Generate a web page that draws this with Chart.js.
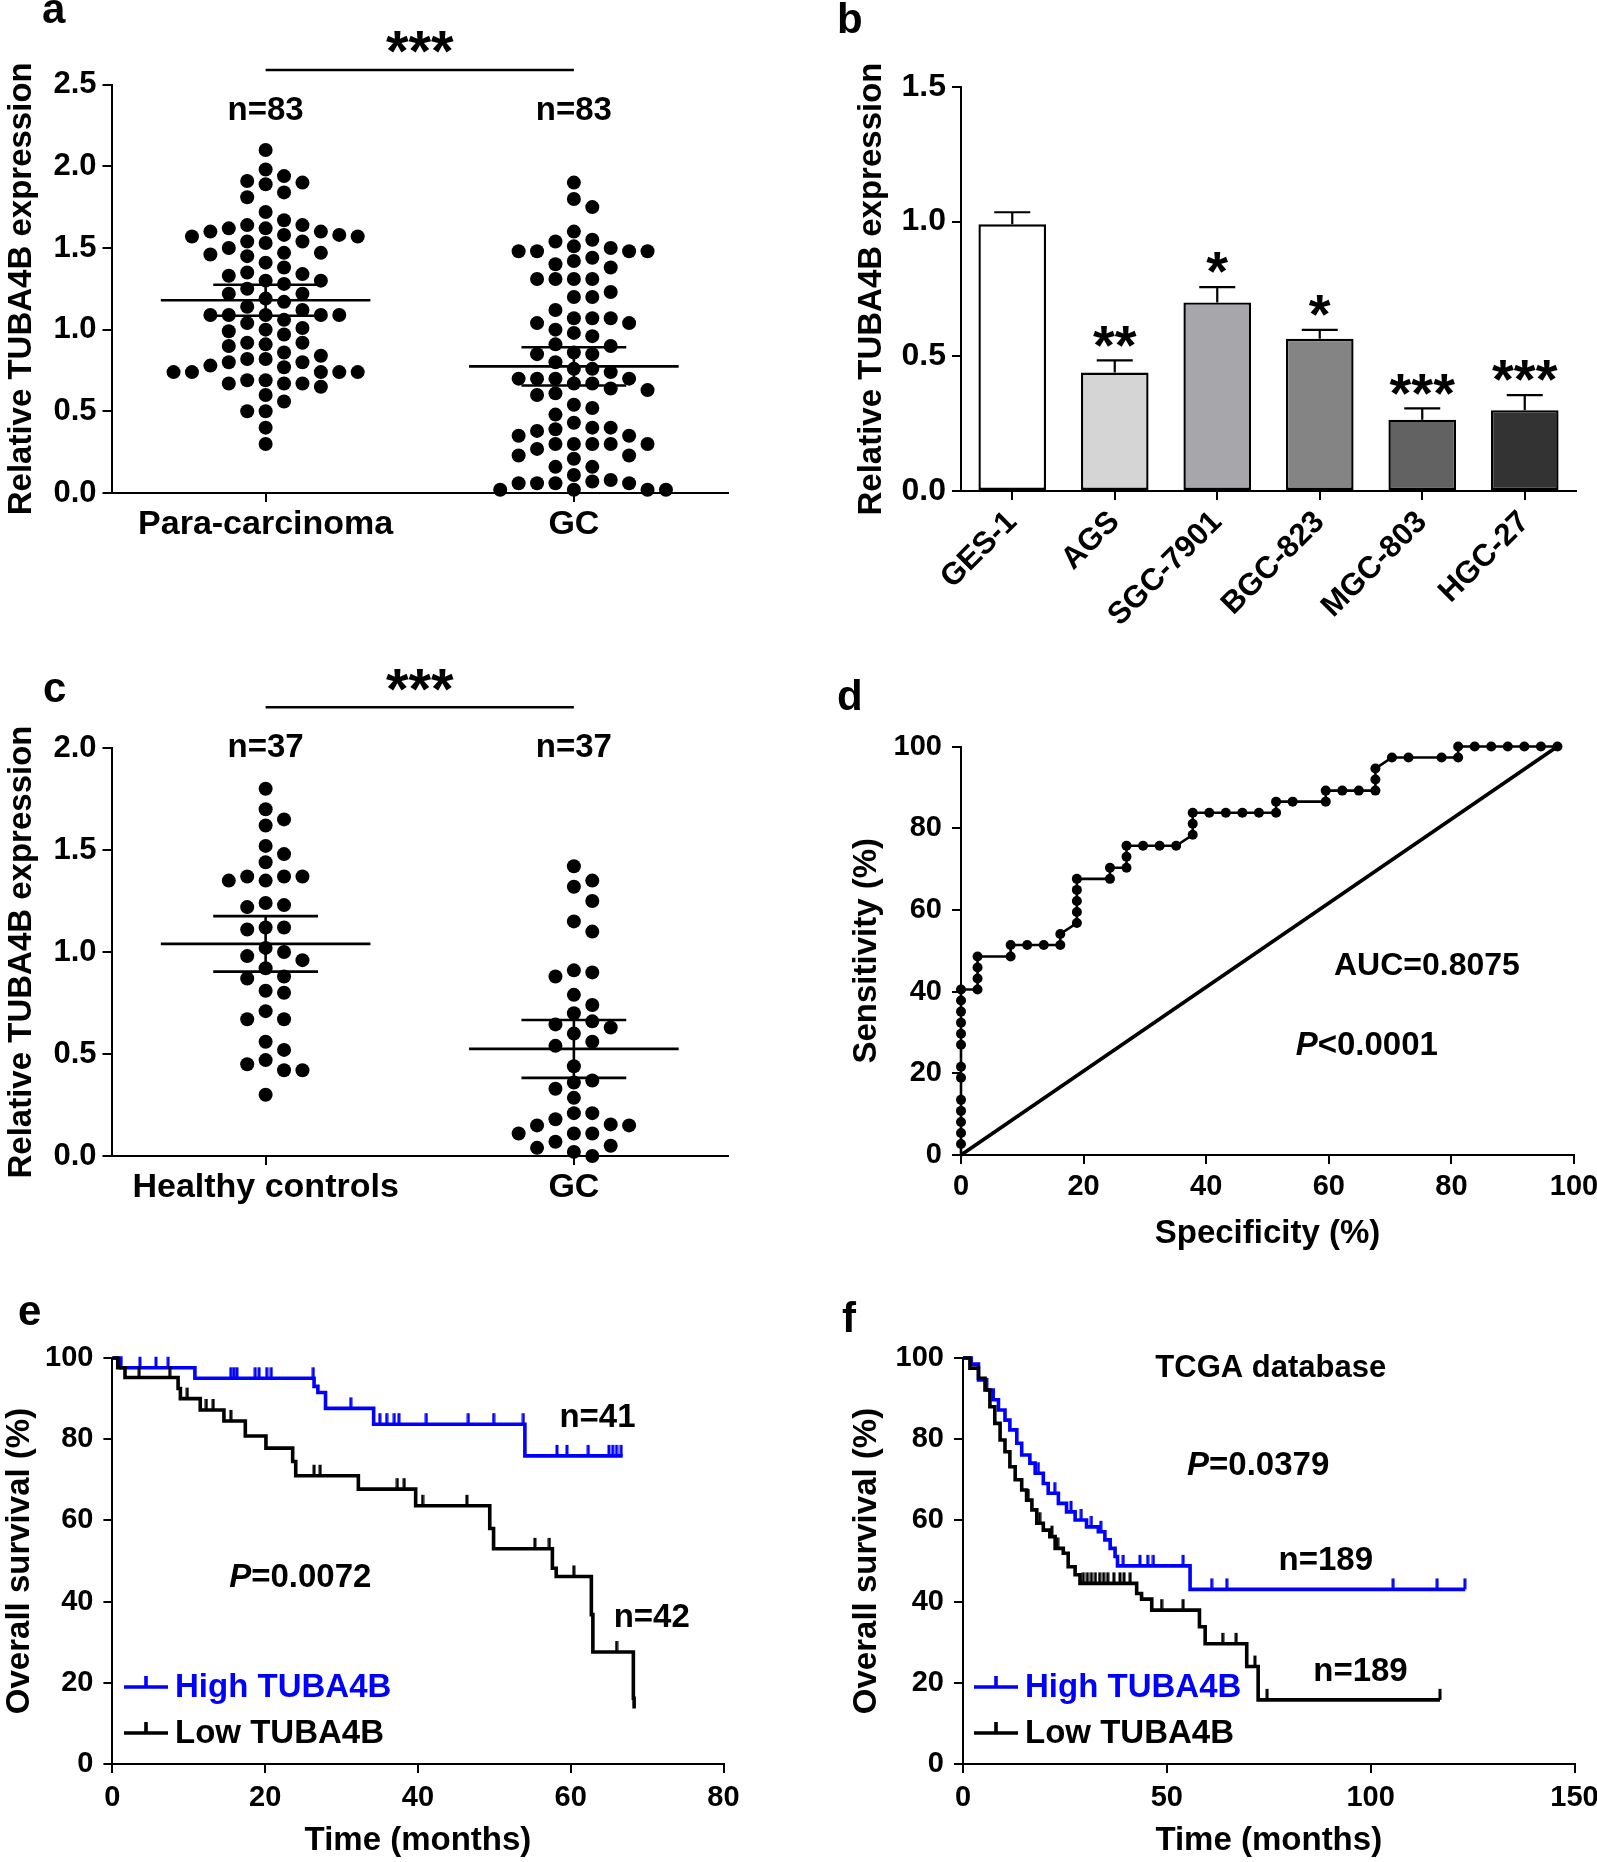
<!DOCTYPE html>
<html>
<head>
<meta charset="utf-8">
<script src="https://cdn.jsdelivr.net/npm/chart.js@4.4.1/dist/chart.umd.min.js"></script>
<style>
  html, body { margin: 0; padding: 0; background: #fff; }
  body { width: 1597px; height: 1862px; position: relative; overflow: hidden; }
  canvas { position: absolute; }
</style>
</head>
<body>
<canvas id="pa"></canvas>
<canvas id="pb"></canvas>
<canvas id="pc"></canvas>
<canvas id="pd"></canvas>
<canvas id="pe"></canvas>
<canvas id="pf"></canvas>
<script>
const FONT = "'Liberation Sans', Arial, Helvetica, sans-serif";

// ---- panel a: tissue, scatter dot plot
const aGroups = ['Para-carcinoma', 'GC'];
const aN = ['n=83', 'n=83'];
const aYTicks = [0, 0.5, 1.0, 1.5, 2.0, 2.5];
const aPara = [2.10, 1.98, 1.94, 1.90, 1.91, 1.89, 1.84, 1.81, 1.72, 1.67,
  1.64, 1.64, 1.62, 1.62, 1.60, 1.60, 1.58, 1.58, 1.57, 1.57,
  1.54, 1.53, 1.54, 1.50, 1.47, 1.47, 1.46, 1.45, 1.41, 1.38,
  1.35, 1.34, 1.33, 1.30, 1.30, 1.28, 1.25, 1.22, 1.22, 1.19,
  1.17, 1.14, 1.12, 1.09, 1.09, 1.09, 1.09, 1.09, 1.06, 1.04,
  1.01, 1.00, 0.99, 0.97, 0.92, 0.92, 0.91, 0.90, 0.86, 0.84,
  0.82, 0.82, 0.80, 0.80, 0.78, 0.77, 0.74, 0.74, 0.74, 0.74,
  0.74, 0.69, 0.69, 0.67, 0.67, 0.67, 0.65, 0.60, 0.56, 0.50,
  0.50, 0.40, 0.30];
const aGC = [1.90, 1.80, 1.75, 1.60, 1.54, 1.55, 1.50, 1.51, 1.48, 1.48,
  1.48, 1.48, 1.44, 1.42, 1.40, 1.38, 1.31, 1.31, 1.31, 1.31,
  1.23, 1.20, 1.20, 1.12, 1.07, 1.07, 1.07, 1.04, 1.04, 1.00,
  0.98, 0.96, 0.91, 0.90, 0.86, 0.85, 0.85, 0.80, 0.76, 0.76,
  0.74, 0.70, 0.70, 0.70, 0.70, 0.67, 0.67, 0.64, 0.63, 0.61,
  0.60, 0.54, 0.52, 0.48, 0.43, 0.40, 0.40, 0.39, 0.38, 0.35,
  0.35, 0.30, 0.30, 0.30, 0.30, 0.30, 0.27, 0.23, 0.23, 0.21,
  0.16, 0.16, 0.11, 0.08, 0.06, 0.06, 0.06, 0.06, 0.07, 0.02,
  0.02, 0.02, 0.02];
const aMean = [1.18, 0.775];
const aSem = [0.095, 0.117];

// ---- panel b: cell lines
const bLines = ['GES-1', 'AGS', 'SGC-7901', 'BGC-823', 'MGC-803', 'HGC-27'];
const bMeans = [0.99, 0.44, 0.70, 0.565, 0.265, 0.30];
const bErr = [0.045, 0.045, 0.057, 0.033, 0.042, 0.056];
const bStars = ['', '**', '*', '*', '***', '***'];
const bYTicks = [0, 0.5, 1.0, 1.5];
const bColors = ['#ffffff', '#d5d5d5', '#a7a7ab', '#848484', '#626262', '#333333'];

// ---- panel c: serum
const cGroups = ['Healthy controls', 'GC'];
const cN = ['n=37', 'n=37'];
const cYTicks = [0, 0.5, 1.0, 1.5, 2.0];
const cHealthy = [1.80, 1.70, 1.65, 1.62, 1.52, 1.48, 1.44, 1.37, 1.37, 1.37,
  1.35, 1.35, 1.24, 1.22, 1.23, 1.12, 1.12, 1.11, 1.02, 1.00,
  0.98, 0.96, 0.92, 0.88, 0.87, 0.81, 0.80, 0.71, 0.67, 0.67,
  0.56, 0.52, 0.47, 0.45, 0.42, 0.42, 0.30];
const cGC = [1.42, 1.35, 1.32, 1.25, 1.15, 1.10, 0.91, 0.90, 0.88, 0.79,
  0.74, 0.70, 0.66, 0.645, 0.63, 0.60, 0.56, 0.54, 0.44, 0.37,
  0.36, 0.33, 0.285, 0.21, 0.21, 0.18, 0.155, 0.15, 0.15, 0.11,
  0.11, 0.11, 0.07, 0.05, 0.04, 0.02, 0.00];
const cMean = [1.04, 0.525];
const cSem = [0.136, 0.142];

// ---- panel d: ROC
const dTicks = [0, 20, 40, 60, 80, 100];
const rocX = [0, 0, 0, 0, 0, 0, 0, 0, 0, 0, 0, 0, 0, 0,
  2.7, 2.7, 2.7, 2.7, 8.1, 8.1, 10.8, 13.5, 16.2, 16.2,
  18.9, 18.9, 18.9, 18.9, 18.9, 24.3, 24.3, 27.0, 27.0, 27.0,
  29.7, 32.4, 35.1, 37.8, 37.8, 37.8, 40.5, 43.2, 45.9, 48.6,
  51.4, 51.4, 54.1, 59.5, 59.5, 62.2, 64.9, 67.6, 67.6, 67.6,
  70.3, 73.0, 78.4, 81.1, 81.1, 83.8, 86.5, 89.2, 91.9, 94.6, 97.3];
const rocY = [0, 2.7, 5.4, 8.1, 10.8, 13.5, 18.9, 21.6, 27.0, 29.7, 32.4, 35.1, 37.8, 40.5,
  40.5, 43.2, 45.9, 48.6, 48.6, 51.4, 51.4, 51.4, 51.4, 54.1,
  56.8, 59.5, 62.2, 64.9, 67.6, 67.6, 70.3, 70.3, 73.0, 75.7,
  75.7, 75.7, 75.7, 78.4, 81.1, 83.8, 83.8, 83.8, 83.8, 83.8,
  83.8, 86.5, 86.5, 86.5, 89.2, 89.2, 89.2, 89.2, 91.9, 94.6,
  97.3, 97.3, 97.3, 97.3, 100, 100, 100, 100, 100, 100, 100];
const diagX = [0, 97.3];
const diagY = [0, 100];

// ---- panel e: KM, own cohort
const eXTicks = [0, 20, 40, 60, 80];
const survTicks = [0, 20, 40, 60, 80, 100];
const eHighT = [0, 1.1, 10.8, 26.4, 26.9, 27.9, 34.2, 54.0, 66.8];
const eHighS = [100, 97.6, 95.0, 93.0, 91.5, 87.6, 83.7, 75.9, 75.9];
const eHighCensor = [3.6, 5.7, 7.3, 15.5, 15.9, 16.3, 18.7, 19.2, 20.2, 20.8, 26.3, 31.2,
  35.0, 35.9, 36.9, 37.5, 41.1, 46.6, 49.9, 53.8, 58.2, 59.5, 62.3, 65.0, 65.5, 66.0, 66.6];
const eLowT = [0, 0.7, 1.65, 8.6, 8.9, 11.5, 14.6, 17.4, 20.1, 23.6, 24.0, 32.2, 39.7,
  49.4, 49.9, 57.6, 58.1, 62.7, 62.9, 68.2, 68.3];
const eLowS = [100, 97.6, 95.2, 92.5, 90.0, 87.2, 84.5, 80.8, 77.8, 74.5, 71.0, 67.7, 63.6,
  58.0, 53.0, 48.2, 46.2, 36.8, 27.6, 16.2, 13.7];
const eLowCensor = [3.5, 7.5, 9.8, 12.3, 13.2, 15.5, 26.4, 27.2, 37.3, 38.2, 40.6, 46.4,
  55.3, 57.2, 60.4, 66.0];

// ---- panel f: KM, TCGA
const fXTicks = [0, 50, 100, 150];
const fHighT = [0, 2.0, 3.8, 5.8, 7.4, 8.7, 10.3, 11.5, 13.2, 14.4, 16.4, 17.7, 19.7, 20.9,
  23.4, 25.4, 27.5, 30.3, 33.2, 34.8, 36.1, 37.3, 37.9, 55.7, 123.2];
const fHighS = [100, 98.5, 94.6, 92.1, 89.7, 87.2, 84.7, 82.3, 79.0, 76.1, 74.1, 71.6, 69.1, 66.7,
  64.2, 62.1, 60.1, 58.4, 57.2, 55.2, 53.1, 51.1, 48.8, 43.0, 43.0];
const fHighCensor = [18.5, 22.5, 26.5, 29.0, 31.5, 33.8, 39.3, 43.4, 45.3, 46.7, 54.0,
  61.0, 64.7, 105.5, 116.3, 123.1];
const fLowT = [0, 1.7, 3.8, 5.4, 6.6, 7.8, 9.1, 10.3, 11.5, 12.8, 14.4, 15.6, 16.9, 18.1,
  19.7, 21.3, 22.6, 24.6, 25.8, 27.5, 28.7, 42.6, 43.8, 46.3, 58.0, 59.4, 69.6, 72.4, 117];
const fLowS = [100, 97.5, 95.0, 92.1, 88.0, 83.9, 79.8, 76.9, 73.2, 70.0, 67.5, 65.0, 62.6, 59.3,
  57.6, 56.0, 53.1, 51.9, 48.6, 46.6, 44.5, 42.0, 40.6, 37.9, 33.8, 29.6, 24.0, 15.8, 15.8];
const fLowCensor = [16.0, 18.8, 21.8, 23.2, 29.5, 30.5, 31.5, 32.5, 33.5, 34.5, 35.5, 37.0,
  38.5, 39.5, 41.0, 48.7, 54.0, 63.7, 67.0, 71.6, 74.6, 117];

// ---------- helpers
function place(id, L, T, W, H) {
  const c = document.getElementById(id);
  c.width = W; c.height = H;
  c.style.left = L + 'px'; c.style.top = T + 'px';
  c.style.width = W + 'px'; c.style.height = H + 'px';
  return c;
}
function frame(box, area) {
  return {
    padding: { left: 0, top: area.t - box.T, right: box.L + box.W - area.r, bottom: 0 },
    yW: area.l - box.L,
    xH: box.T + box.H - area.b
  };
}
const gridOpts = { drawOnChartArea: false, drawTicks: true, tickLength: 9, lineWidth: 2, color: '#000' };
const borderOpts = { display: true, color: '#000', width: 2 };

function yScale(fr, o) {
  return {
    type: 'linear', min: o.ticks[0], max: o.ticks[o.ticks.length - 1],
    afterBuildTicks: s => { s.ticks = o.ticks.map(v => ({ value: v })); },
    ticks: { color: '#000', padding: o.pad, font: { family: FONT, size: o.size || 29, weight: 'bold' },
      callback: v => o.dec ? Number(v).toFixed(o.dec) : String(v) },
    grid: gridOpts, border: borderOpts,
    title: { display: true, text: o.title, color: '#000',
      font: { family: FONT, size: 33, weight: 'bold' }, padding: { top: o.titlePad, bottom: 0 } },
    afterFit: s => { s.width = fr.yW; s.paddingTop = 0; s.paddingBottom = 0; }
  };
}
function xScaleNum(fr, o) {
  return {
    type: 'linear', min: o.ticks[0], max: o.ticks[o.ticks.length - 1],
    afterBuildTicks: s => { s.ticks = o.ticks.map(v => ({ value: v })); },
    ticks: { color: '#000', padding: o.pad, maxRotation: 0, autoSkip: false,
      font: { family: FONT, size: 29, weight: 'bold' }, callback: v => String(v) },
    grid: gridOpts, border: borderOpts,
    title: { display: true, text: o.title, color: '#000',
      font: { family: FONT, size: 33, weight: 'bold' }, padding: { top: 0, bottom: o.titlePad } },
    afterFit: s => { s.height = fr.xH; s.paddingLeft = 0; s.paddingRight = 0; }
  };
}
function xScaleGroups(fr, groups) {
  return {
    type: 'linear', min: 0.5, max: groups.length + 0.5,
    afterBuildTicks: s => { s.ticks = groups.map((g, i) => ({ value: i + 1 })); },
    ticks: { color: '#000', padding: 2, maxRotation: 0, autoSkip: false,
      font: { family: FONT, size: 34, weight: 'bold' }, callback: (v, i) => groups[i] },
    grid: gridOpts, border: borderOpts,
    afterFit: s => { s.height = fr.xH; s.paddingLeft = 0; s.paddingRight = 0; }
  };
}

// simple beeswarm: columns of fixed pixel spacing, no two dots of a column closer than gap px
function swarm(values, center, pxPerY, pxPerX) {
  const colPx = 18.4, gap = 14.5;
  const sorted = values.slice().sort((a, b) => b - a);
  const placed = [];
  const out = [];
  for (const v of sorted) {
    for (let i = 0; i < 60; i++) {
      const k = i === 0 ? 0 : (i % 2 ? (i + 1) / 2 : -i / 2);
      if (placed.every(p => p.k !== k || Math.abs(p.v - v) * pxPerY >= gap)) {
        placed.push({ k, v });
        out.push({ x: center + k * colPx / pxPerX, y: v });
        break;
      }
    }
  }
  return out;
}
function meanSemSets(means, sems) {
  const sets = [];
  const line = pts => ({ data: pts, showLine: true, pointRadius: 0, borderColor: '#000',
    borderWidth: 2.6, clip: false });
  means.forEach((m, i) => {
    const c = i + 1, s = sems[i];
    sets.push(line([{ x: c - 0.34, y: m }, { x: c + 0.34, y: m }]));
    sets.push(line([{ x: c - 0.17, y: m + s }, { x: c + 0.17, y: m + s }]));
    sets.push(line([{ x: c - 0.17, y: m - s }, { x: c + 0.17, y: m - s }]));
    sets.push(line([{ x: c, y: m - s }, { x: c, y: m + s }]));
  });
  return sets;
}
function text(ctx, str, x, y, size, o = {}) {
  ctx.save();
  ctx.font = (o.italic ? 'italic ' : '') + 'bold ' + size + 'px ' + FONT;
  ctx.fillStyle = o.color || '#000';
  ctx.textAlign = o.align || 'center';
  ctx.textBaseline = o.base || 'middle';
  ctx.fillText(str, x, y);
  ctx.restore();
}
function pText(ctx, rest, cx, cy, size) {
  ctx.save();
  const fi = 'italic bold ' + size + 'px ' + FONT, fb = 'bold ' + size + 'px ' + FONT;
  ctx.font = fi; const w1 = ctx.measureText('P').width;
  ctx.font = fb; const w2 = ctx.measureText(rest).width;
  const x = cx - (w1 + w2) / 2;
  ctx.textBaseline = 'middle'; ctx.textAlign = 'left'; ctx.fillStyle = '#000';
  ctx.font = fi; ctx.fillText('P', x, cy);
  ctx.font = fb; ctx.fillText(rest, x + w1, cy);
  ctx.restore();
}
function stars(ctx, str, x, yCenter, size) {
  // asterisk glyph centre sits ~0.56em above the baseline
  text(ctx, str, x, yCenter + 0.56 * size, size, { base: 'alphabetic' });
}
function hline(ctx, x1, x2, y, w) {
  ctx.save(); ctx.strokeStyle = '#000'; ctx.lineWidth = w;
  ctx.beginPath(); ctx.moveTo(x1, y); ctx.lineTo(x2, y); ctx.stroke(); ctx.restore();
}
function letter(ctx, ch, x, y) {
  text(ctx, ch, x, y, 42, { align: 'left', base: 'alphabetic' });
}
const baseOpts = fr => ({
  responsive: false, animation: false, events: [],
  layout: { padding: fr.padding },
  plugins: { legend: { display: false }, tooltip: { enabled: false } }
});

// ---------- panel a
{
  const box = { L: 0, T: 0, W: 790, H: 560 };
  const fr = frame(box, { l: 111.5, t: 84.6, r: 728, b: 493 });
  const cv = place('pa', box.L, box.T, box.W, box.H);
  const dots = (vals, c) => ({ data: swarm(vals, c, 163.4, 308), pointRadius: 7,
    backgroundColor: '#000', borderWidth: 0, clip: false });
  new Chart(cv, {
    type: 'scatter',
    data: { datasets: [dots(aPara, 1), dots(aGC, 2), ...meanSemSets(aMean, aSem)] },
    options: Object.assign(baseOpts(fr), {
      scales: {
        x: xScaleGroups(fr, aGroups),
        y: yScale(fr, { ticks: aYTicks, dec: 1, pad: 6, size: 31, title: 'Relative TUBA4B expression', titlePad: 2 })
      }
    }),
    plugins: [{
      id: 'annA',
      afterDraw(chart) {
        const { ctx, scales: { x, y } } = chart;
        letter(ctx, 'a', 42, 23);
        aN.forEach((n, i) => text(ctx, n, x.getPixelForValue(i + 1), y.getPixelForValue(2.34), 33));
        hline(ctx, x.getPixelForValue(1), x.getPixelForValue(2), y.getPixelForValue(2.59), 2.5);
        stars(ctx, '***', x.getPixelForValue(1.5), y.getPixelForValue(2.78), 58);
      }
    }]
  });
}

// ---------- panel b
{
  const box = { L: 800, T: 0, W: 797, H: 650 };
  const fr = frame(box, { l: 961, t: 87, r: 1576, b: 491 });
  const cv = place('pb', box.L, box.T, box.W, box.H);
  new Chart(cv, {
    type: 'bar',
    data: { labels: bLines, datasets: [{ data: bMeans, backgroundColor: bColors, borderColor: '#000',
      borderWidth: 2.4, borderSkipped: false, categoryPercentage: 1, barPercentage: 0.66 }] },
    options: Object.assign(baseOpts(fr), {
      scales: {
        x: {
          type: 'category', offset: true,
          ticks: { color: '#000', padding: 4, autoSkip: false, maxRotation: 45, minRotation: 45,
            font: { family: FONT, size: 31, weight: 'bold' } },
          grid: Object.assign({ offset: false }, gridOpts), border: borderOpts,
          afterFit: s => { s.height = fr.xH; s.paddingLeft = 0; s.paddingRight = 0; }
        },
        y: yScale(fr, { ticks: bYTicks, dec: 1, pad: 6, size: 32, title: 'Relative TUBA4B expression', titlePad: 52 })
      }
    }),
    plugins: [{
      id: 'annB',
      afterDatasetsDraw(chart) {
        const { ctx, scales: { y } } = chart;
        const meta = chart.getDatasetMeta(0);
        meta.data.forEach((bar, i) => {
          const base = y.getPixelForValue(bMeans[i]);
          const top = y.getPixelForValue(bMeans[i] + bErr[i]);
          ctx.save(); ctx.strokeStyle = '#000'; ctx.lineWidth = 2.2;
          ctx.beginPath(); ctx.moveTo(bar.x, base); ctx.lineTo(bar.x, top);
          ctx.moveTo(bar.x - 18, top); ctx.lineTo(bar.x + 18, top); ctx.stroke(); ctx.restore();
          if (bStars[i]) stars(ctx, bStars[i], bar.x, top - 28, 56);
        });
      },
      afterDraw(chart) { letter(chart.ctx, 'b', 37, 33); }
    }]
  });
}

// ---------- panel c
{
  const box = { L: 0, T: 640, W: 790, H: 600 };
  const fr = frame(box, { l: 111.5, t: 748, r: 728, b: 1156 });
  const cv = place('pc', box.L, box.T, box.W, box.H);
  const dots = (vals, c) => ({ data: swarm(vals, c, 204, 308), pointRadius: 7,
    backgroundColor: '#000', borderWidth: 0, clip: false });
  new Chart(cv, {
    type: 'scatter',
    data: { datasets: [dots(cHealthy, 1), dots(cGC, 2), ...meanSemSets(cMean, cSem)] },
    options: Object.assign(baseOpts(fr), {
      scales: {
        x: xScaleGroups(fr, cGroups),
        y: yScale(fr, { ticks: cYTicks, dec: 1, pad: 6, size: 31, title: 'Relative TUBA4B expression', titlePad: 2 })
      }
    }),
    plugins: [{
      id: 'annC',
      afterDraw(chart) {
        const { ctx, scales: { x, y } } = chart;
        letter(ctx, 'c', 43, 62);
        cN.forEach((n, i) => text(ctx, n, x.getPixelForValue(i + 1), y.getPixelForValue(2.0), 33));
        hline(ctx, x.getPixelForValue(1), x.getPixelForValue(2), y.getPixelForValue(2.2), 2.5);
        stars(ctx, '***', x.getPixelForValue(1.5), y.getPixelForValue(2.35), 58);
      }
    }]
  });
}

// ---------- panel d
{
  const box = { L: 800, T: 640, W: 797, H: 620 };
  const fr = frame(box, { l: 961, t: 746.5, r: 1574, b: 1155 });
  const cv = place('pd', box.L, box.T, box.W, box.H);
  new Chart(cv, {
    type: 'scatter',
    data: { datasets: [
      { data: rocX.map((v, i) => ({ x: v, y: rocY[i] })), showLine: true, borderColor: '#000',
        borderWidth: 2.6, backgroundColor: '#000', pointBorderWidth: 0, clip: false,
        pointRadius: c => c.dataIndex === 0 ? 0 : 5 },
      { data: diagX.map((v, i) => ({ x: v, y: diagY[i] })), showLine: true, borderColor: '#000',
        borderWidth: 3.8, pointRadius: 0, clip: false }
    ] },
    options: Object.assign(baseOpts(fr), {
      scales: {
        x: xScaleNum(fr, { ticks: dTicks, pad: 6, title: 'Specificity (%)', titlePad: 6 }),
        y: yScale(fr, { ticks: dTicks, pad: 10, title: 'Sensitivity (%)', titlePad: 47 })
      }
    }),
    plugins: [{
      id: 'annD',
      afterDraw(chart) {
        const { ctx, scales: { x, y } } = chart;
        letter(ctx, 'd', 37, 70);
        text(ctx, 'AUC=0.8075', x.getPixelForValue(76.0), y.getPixelForValue(46.2), 32);
        pText(ctx, '<0.0001', x.getPixelForValue(66.2), y.getPixelForValue(26.8), 33);
      }
    }]
  });
}

// ---------- KM helpers (panels e, f)
function tickImg(color) {
  const c = document.createElement('canvas');
  c.width = 4; c.height = 24;
  const g = c.getContext('2d');
  g.fillStyle = color;
  g.fillRect(0.5, 1, 3, 11);
  return c;
}
function survAt(t, T, S) {
  let s = S[0];
  for (let i = 0; i < T.length; i++) if (T[i] <= t) s = S[i];
  return s;
}
function kmSets(T, S, censor, color) {
  return [
    { data: T.map((t, i) => ({ x: t, y: S[i] })), showLine: true, stepped: 'before',
      borderColor: color, borderWidth: 3.6, pointRadius: 0, clip: false },
    { data: censor.map(t => ({ x: t, y: survAt(t, T, S) })), pointStyle: tickImg(color),
      pointRadius: 5, clip: false }
  ];
}
function kmLegend(ctx, area, dx, items) {
  items.forEach((it, i) => {
    const y = area.bottom - 77 + i * 46;
    const x0 = area.left + dx;
    ctx.save(); ctx.strokeStyle = it.color; ctx.lineWidth = 3.6;
    ctx.beginPath(); ctx.moveTo(x0, y); ctx.lineTo(x0 + 44, y);
    ctx.moveTo(x0 + 22, y); ctx.lineTo(x0 + 22, y - 11); ctx.stroke(); ctx.restore();
    text(ctx, it.label, x0 + 51, y + 1, 33, { align: 'left', color: it.color });
  });
}

// ---------- panel e
{
  const box = { L: 0, T: 1290, W: 790, H: 572 };
  const fr = frame(box, { l: 112.4, t: 1358, r: 723.5, b: 1764 });
  const cv = place('pe', box.L, box.T, box.W, box.H);
  new Chart(cv, {
    type: 'scatter',
    data: { datasets: [...kmSets(eLowT, eLowS, eLowCensor, '#000'),
      ...kmSets(eHighT, eHighS, eHighCensor, '#0000ff')] },
    options: Object.assign(baseOpts(fr), {
      scales: {
        x: xScaleNum(fr, { ticks: eXTicks, pad: 8, title: 'Time (months)', titlePad: 1 }),
        y: yScale(fr, { ticks: survTicks, pad: 10, title: 'Overall survival (%)', titlePad: 0 })
      }
    }),
    plugins: [{
      id: 'annE',
      afterDraw(chart) {
        const { ctx, chartArea, scales: { x, y } } = chart;
        letter(ctx, 'e', 18, 35);
        text(ctx, 'n=41', x.getPixelForValue(63.5), y.getPixelForValue(85.2), 33);
        text(ctx, 'n=42', x.getPixelForValue(70.6), y.getPixelForValue(36.0), 33);
        pText(ctx, '=0.0072', x.getPixelForValue(24.6), y.getPixelForValue(45.8), 33);
        kmLegend(ctx, chartArea, 11.6, [{ label: 'High TUBA4B', color: '#0000ff' },
          { label: 'Low TUBA4B', color: '#000' }]);
      }
    }]
  });
}

// ---------- panel f
{
  const box = { L: 800, T: 1290, W: 797, H: 572 };
  const fr = frame(box, { l: 963, t: 1358, r: 1574.5, b: 1764 });
  const cv = place('pf', box.L, box.T, box.W, box.H);
  new Chart(cv, {
    type: 'scatter',
    data: { datasets: [...kmSets(fLowT, fLowS, fLowCensor, '#000'),
      ...kmSets(fHighT, fHighS, fHighCensor, '#0000ff')] },
    options: Object.assign(baseOpts(fr), {
      scales: {
        x: xScaleNum(fr, { ticks: fXTicks, pad: 8, title: 'Time (months)', titlePad: 1 }),
        y: yScale(fr, { ticks: survTicks, pad: 10, title: 'Overall survival (%)', titlePad: 47 })
      }
    }),
    plugins: [{
      id: 'annF',
      afterDraw(chart) {
        const { ctx, chartArea, scales: { x, y } } = chart;
        letter(ctx, 'f', 42, 42);
        text(ctx, 'TCGA database', x.getPixelForValue(75.5), y.getPixelForValue(97.5), 31);
        pText(ctx, '=0.0379', x.getPixelForValue(72.4), y.getPixelForValue(73.5), 33);
        text(ctx, 'n=189', x.getPixelForValue(89.0), y.getPixelForValue(50.0), 33);
        text(ctx, 'n=189', x.getPixelForValue(97.5), y.getPixelForValue(22.7), 33);
        kmLegend(ctx, chartArea, 11, [{ label: 'High TUBA4B', color: '#0000ff' },
          { label: 'Low TUBA4B', color: '#000' }]);
      }
    }]
  });
}
</script>
</body>
</html>
